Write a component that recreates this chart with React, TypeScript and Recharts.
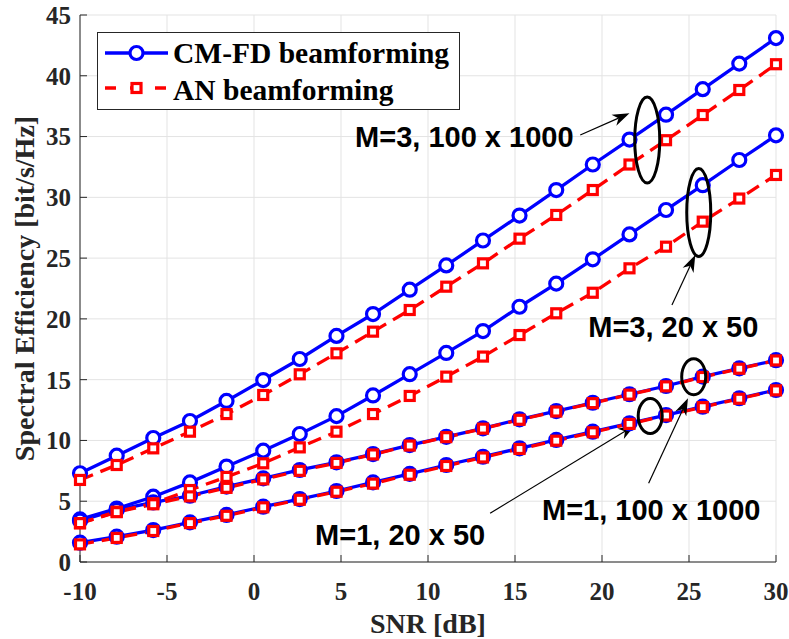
import React from 'react';
import {
  CartesianGrid,
  Line,
  LineChart,
  ReferenceDot,
  ReferenceLine,
  XAxis,
  YAxis,
} from 'recharts';

// SNR sample points [dB]
const snr = [-10, -7.89, -5.79, -3.68, -1.58, 0.53, 2.63, 4.74, 6.84, 8.95, 11.05, 13.16, 15.26, 17.37, 19.47, 21.58, 23.68, 25.79, 27.89, 30];

// spectral efficiency [bit/s/Hz]
const cmfdM3Large = [7.3, 8.75, 10.2, 11.6, 13.25, 14.97, 16.7, 18.6, 20.4, 22.4, 24.4, 26.45, 28.5, 30.6, 32.7, 34.75, 36.8, 38.9, 41.0, 43.1];
const cmfdM3Small = [3.5, 4.4, 5.37, 6.55, 7.85, 9.16, 10.53, 12.0, 13.7, 15.45, 17.2, 19.0, 21.0, 22.9, 24.9, 26.95, 28.96, 31.0, 33.07, 35.1];
const cmfdM1Large = [3.4, 4.28, 4.9, 5.45, 6.2, 6.88, 7.57, 8.2, 8.88, 9.62, 10.3, 11.0, 11.74, 12.42, 13.1, 13.8, 14.48, 15.25, 15.93, 16.6];
const cmfdM1Small = [1.59, 2.08, 2.63, 3.26, 3.87, 4.55, 5.18, 5.84, 6.55, 7.25, 7.98, 8.66, 9.35, 10.04, 10.72, 11.41, 12.09, 12.78, 13.47, 14.15];

const anM3Large = [6.75, 7.98, 9.35, 10.72, 12.17, 13.74, 15.44, 17.17, 18.95, 20.73, 22.65, 24.57, 26.6, 28.55, 30.6, 32.7, 34.7, 36.77, 38.83, 40.95];
const anM3Small = [3.18, 4.14, 4.83, 5.92, 7.0, 8.12, 9.43, 10.72, 12.17, 13.66, 15.25, 16.9, 18.67, 20.46, 22.15, 24.16, 25.94, 28.0, 29.9, 31.84];
const anM1Large = [3.2, 4.1, 4.75, 5.4, 6.1, 6.8, 7.5, 8.15, 8.85, 9.58, 10.27, 10.97, 11.7, 12.38, 13.07, 13.77, 14.45, 15.22, 15.9, 16.58];
const anM1Small = [1.45, 1.98, 2.55, 3.2, 3.8, 4.5, 5.12, 5.78, 6.45, 7.18, 7.9, 8.6, 9.3, 9.98, 10.67, 11.36, 12.05, 12.74, 13.43, 14.12];

const xTicks = [-10, -5, 0, 5, 10, 15, 20, 25, 30];
const yTicks = [0, 5, 10, 15, 20, 25, 30, 35, 40, 45];

const legendLabels = ['CM-FD beamforming', 'AN beamforming'];

// annotation texts, anchored at (x, y) in data units
const noteLabels = ['M=3, 100 x 1000', 'M=3, 20 x 50', 'M=1, 100 x 1000', 'M=1, 20 x 50'];
const noteX = [5.81, 19.21, 16.55, 3.51];
const noteY = [34.14, 18.51, 3.46, 1.4];

// ellipse centres (data units)
const ellipseX = [22.6, 25.56, 25.27, 22.77];
const ellipseY = [34.72, 28.75, 15.24, 12.01];

// arrows: tail -> head (data units)
const arrowFrom = [[18.75, 35.13], [24.02, 21.14], [13.57, 4.01], [22.68, 6.47]];
const arrowTo = [[21.58, 36.91], [25.36, 25.26], [21.91, 11.27], [24.94, 13.47]];

const data = snr.map((s, i) => ({
  snr: s,
  cmfdM3Large: cmfdM3Large[i],
  cmfdM3Small: cmfdM3Small[i],
  cmfdM1Large: cmfdM1Large[i],
  cmfdM1Small: cmfdM1Small[i],
  anM3Large: anM3Large[i],
  anM3Small: anM3Small[i],
  anM1Large: anM1Large[i],
  anM1Small: anM1Small[i],
}));

const BLUE = '#0000ff';
const RED = '#ff0000';
const AXIS = '#262626';
const SERIF = '"Liberation Serif", "Times New Roman", serif';
const SANS = '"Liberation Sans", Arial, Helvetica, sans-serif';

const ellipseSize = [[12.5, 43], [12, 44], [12, 18], [12, 17.5]];

const BlueCircle = (props: any) => {
  const { cx, cy, index } = props;
  if (cx == null || cy == null) return null;
  return <circle key={`c-${index}`} cx={cx} cy={cy} r={6.5} fill="#fff" stroke={BLUE} strokeWidth={3.2} />;
};

const RedSquare = (props: any) => {
  const { cx, cy, index } = props;
  if (cx == null || cy == null) return null;
  return <rect key={`s-${index}`} x={cx - 4.5} y={cy - 4.5} width={9} height={9} fill="#fff" stroke={RED} strokeWidth={3.2} />;
};

const ArrowShape = (p: any) => {
  const { x1, y1, x2, y2 } = p;
  if (x1 == null) return null;
  const a = Math.atan2(y2 - y1, x2 - x1);
  const c = Math.cos(a);
  const s = Math.sin(a);
  const len = 17;
  const half = 6;
  const notch = 12;
  const pts = [
    [x2, y2],
    [x2 - len * c + half * s, y2 - len * s - half * c],
    [x2 - notch * c, y2 - notch * s],
    [x2 - len * c - half * s, y2 - len * s + half * c],
  ]
    .map((q) => q.join(','))
    .join(' ');
  return (
    <g>
      <line x1={x1} y1={y1} x2={x2 - notch * c} y2={y2 - notch * s} stroke="#000" strokeWidth={1.2} />
      <polygon points={pts} fill="#000" />
    </g>
  );
};

const blueKeys = ['cmfdM3Large', 'cmfdM3Small', 'cmfdM1Large', 'cmfdM1Small'];
const redKeys = ['anM3Large', 'anM3Small', 'anM1Large', 'anM1Small'];

function LegendBox() {
  return (
    <svg
      width={363}
      height={78}
      style={{ position: 'absolute', left: 97, top: 32 }}
    >
      <rect x={0.5} y={0.5} width={362} height={77} fill="#fff" stroke={AXIS} strokeWidth={1} />
      <line x1={8} y1={21} x2={71} y2={21} stroke={BLUE} strokeWidth={3.3} />
      <circle cx={39.5} cy={21} r={6.5} fill="#fff" stroke={BLUE} strokeWidth={3.2} />
      <line x1={8} y1={56} x2={71} y2={56} stroke={RED} strokeWidth={3.3} strokeDasharray="11 14" strokeDashoffset={0} />
      <rect x={35} y={51.5} width={9} height={9} fill="#fff" stroke={RED} strokeWidth={3.2} />
      <text x={76} y={31} fontFamily={SERIF} fontWeight="bold" fontSize={29.5} fill="#000">
        {legendLabels[0]}
      </text>
      <text x={76} y={68} fontFamily={SERIF} fontWeight="bold" fontSize={29.5} fill="#000">
        {legendLabels[1]}
      </text>
    </svg>
  );
}

export default function App() {
  const tickStyle = { fill: AXIS, fontSize: 25, fontWeight: 'bold', fontFamily: SERIF };
  return (
    <div style={{ position: 'absolute', left: 0, top: 0, width: 789, height: 639, background: '#fff' }}>
      <LineChart width={789} height={639} data={data} margin={{ top: 15, right: 13, bottom: 0, left: 0 }}>
        <CartesianGrid stroke="#e3e3e3" strokeWidth={1} />
        <XAxis
          dataKey="snr"
          type="number"
          domain={[-10, 30]}
          ticks={xTicks}
          interval={0}
          height={77}
          tickSize={-7}
          tickMargin={27}
          axisLine={{ stroke: AXIS }}
          tickLine={{ stroke: AXIS }}
          tick={tickStyle}
          label={{
            content: (p: any) => (
              <text
                x={p.viewBox.x + p.viewBox.width / 2}
                y={p.viewBox.y + 71}
                textAnchor="middle"
                fontFamily={SERIF}
                fontWeight="bold"
                fontSize={28}
                fill={AXIS}
              >
                SNR [dB]
              </text>
            ),
          }}
        />
        <XAxis
          xAxisId="top"
          orientation="top"
          type="number"
          domain={[-10, 30]}
          ticks={xTicks}
          interval={0}
          height={0}
          tickSize={-7}
          tick={false}
          axisLine={{ stroke: AXIS }}
          tickLine={{ stroke: AXIS }}
        />
        <YAxis
          type="number"
          domain={[0, 45]}
          ticks={yTicks}
          interval={0}
          width={80}
          tickSize={-7}
          tickMargin={16}
          axisLine={{ stroke: AXIS }}
          tickLine={{ stroke: AXIS }}
          tick={tickStyle}
          label={{
            content: (p: any) => {
              const x = p.viewBox.x + 33.5;
              const y = p.viewBox.y + p.viewBox.height / 2;
              return (
                <text
                  x={x}
                  y={y}
                  transform={`rotate(-90 ${x} ${y})`}
                  textAnchor="middle"
                  fontFamily={SERIF}
                  fontWeight="bold"
                  fontSize={28}
                  fill={AXIS}
                >
                  Spectral Efficiency [bit/s/Hz]
                </text>
              );
            },
          }}
        />
        <YAxis
          yAxisId="right"
          orientation="right"
          type="number"
          domain={[0, 45]}
          ticks={yTicks}
          interval={0}
          width={0}
          tickSize={-7}
          tick={false}
          axisLine={{ stroke: AXIS }}
          tickLine={{ stroke: AXIS }}
        />

        {blueKeys.map((k) => (
          <Line
            key={k}
            dataKey={k}
            stroke={BLUE}
            strokeWidth={3.3}
            dot={BlueCircle}
            activeDot={false}
            isAnimationActive={false}
          />
        ))}
        {redKeys.map((k) => (
          <Line
            key={k}
            dataKey={k}
            stroke={RED}
            strokeWidth={3.3}
            strokeDasharray="14 8"
            dot={RedSquare}
            activeDot={false}
            isAnimationActive={false}
          />
        ))}

        {ellipseX.map((x, i) => (
          <ReferenceDot
            key={`e-${i}`}
            x={x}
            y={ellipseY[i]}
            r={1}
            shape={(p: any) => (
              <ellipse cx={p.cx} cy={p.cy} rx={ellipseSize[i][0]} ry={ellipseSize[i][1]} fill="none" stroke="#000" strokeWidth={3} />
            )}
          />
        ))}
        {arrowFrom.map((f, i) => (
          <ReferenceLine
            key={`a-${i}`}
            segment={[
              { x: f[0], y: f[1] },
              { x: arrowTo[i][0], y: arrowTo[i][1] },
            ]}
            stroke="#000"
            shape={ArrowShape}
          />
        ))}
        {noteLabels.map((t, i) => (
          <ReferenceDot
            key={`n-${i}`}
            x={noteX[i]}
            y={noteY[i]}
            r={1}
            shape={(p: any) => (
              <text x={p.cx} y={p.cy} fontFamily={SANS} fontWeight="bold" fontSize={29} fill="#000">
                {t}
              </text>
            )}
          />
        ))}
      </LineChart>
      <LegendBox />
    </div>
  );
}
